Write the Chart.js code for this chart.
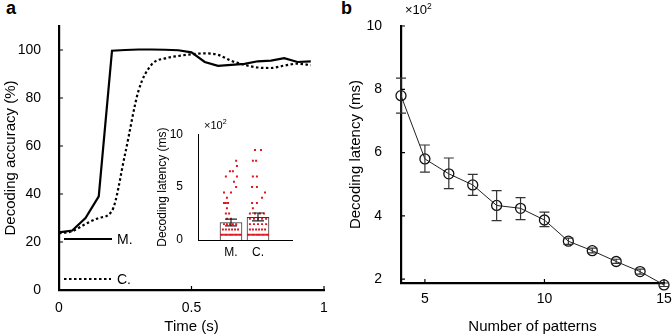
<!DOCTYPE html>
<html>
<head>
<meta charset="utf-8">
<script src="https://cdn.jsdelivr.net/npm/chart.js@4.4.1/dist/chart.umd.min.js"></script>
<style>
body { margin: 0; background: #fff; width: 672px; height: 336px; position: relative; overflow: hidden; font-family: "Liberation Sans", Arial, sans-serif; }
canvas { position: absolute; }
.panel { position: absolute; font-weight: bold; font-size: 18px; color: #000; }
.mult { position: absolute; color: #000; }
.mult sup { font-size: 0.65em; }
</style>
</head>
<body>
<div class="panel" style="left:6px;top:-2px">a</div>
<div class="panel" style="left:341px;top:-2px">b</div>
<canvas id="chartA" width="340" height="336" style="left:0;top:0"></canvas>
<canvas id="inset" width="155" height="140" style="left:145px;top:120px"></canvas>
<canvas id="chartB" width="332" height="336" style="left:340px;top:0"></canvas>
<div class="mult" style="left:204px;top:118px;font-size:11px">×10<sup>2</sup></div>
<div class="mult" style="left:405px;top:1px;font-size:13px">×10<sup>2</sup></div>
<script>
// panel a: decoding accuracy over time
const timeS = [0, 0.05, 0.1, 0.15, 0.2, 0.25, 0.3, 0.35, 0.4, 0.45, 0.5, 0.55, 0.6, 0.65, 0.7, 0.75, 0.8, 0.85, 0.9, 0.95];
const accM = [24, 24.8, 30, 39, 99.7, 100, 100.2, 100.2, 100.1, 99.9, 99, 95, 93.4, 93.8, 94.2, 95.3, 95.6, 96.6, 95, 95.3];
const accC = [23.6, 24.5, 27.5, 30, 33, 57, 83, 94, 96.5, 97.5, 98.2, 98.6, 98, 95.5, 93.8, 92.7, 92.5, 93.5, 94.3, 93.7];
const aTicksX = [0, 0.5, 1];
const aTicksY = [0, 20, 40, 60, 80, 100];

// inset: latency per group (x100 ms)
const insetCats = ['M.', 'C.'];
const insetMeans = [1.65, 2.15];
const insetErrHi = [1.97, 2.55];
const insetErrLo = [1.33, 1.8];
const insetTicksY = [0, 5, 10];
const mDotsY = [7.5, 7.0, 6.5, 6.5, 6.0, 6.0, 5.5, 5.0, 4.5, 4.5, 4.0, 3.5, 3.5, 3.5, 3.0, 2.5, 2.5, 2.0, 2.0,
  1.5, 1.5, 1.5, 1.5, 1.5, 1.0, 1.0, 1.0, 1.0, 1.0, 1.0,
  0.5, 0.5, 0.5, 0.5, 0.5, 0.5, 0.5, 0.5, 0.5, 0.5, 0.5];
const mDotsX = [1.19, 1.22, 0.96, 1.07, 0.81, 1.22, 1.11, 1.19, 0.74, 1.0, 0.85, 0.74, 0.81, 0.89, 0.85, 0.81, 0.93, 0.85, 1.0,
  0.74, 0.85, 0.96, 1.07, 1.19, 0.7, 0.81, 0.93, 1.04, 1.15, 1.26,
  0.63, 0.7, 0.78, 0.85, 0.93, 1.0, 1.07, 1.15, 1.22, 1.3, 1.37];
const cDotsY = [8.5, 8.5, 7.5, 7.5, 6.0, 6.0, 5.0, 5.0, 4.5, 4.0, 3.5, 3.5, 3.0, 2.5, 2.5, 2.5, 2.5,
  2.0, 2.0, 2.0, 2.0, 2.0, 1.5, 1.5, 1.5, 1.5, 1.5, 1.0, 1.0, 1.0, 1.0, 1.0, 1.0,
  0.5, 0.5, 0.5, 0.5, 0.5, 0.5, 0.5, 0.5, 0.5, 0.5, 0.5];
const cDotsX = [1.89, 2.11, 1.81, 1.93, 1.81, 1.96, 1.78, 1.96, 2.26, 2.15, 1.78, 1.96, 1.81, 1.7, 1.89, 2.07, 2.22,
  1.7, 1.85, 2.0, 2.15, 2.3, 1.7, 1.85, 2.0, 2.15, 2.3, 1.7, 1.81, 1.93, 2.04, 2.15, 2.26,
  1.63, 1.7, 1.78, 1.85, 1.93, 2.0, 2.07, 2.15, 2.22, 2.3, 2.37];

// panel b: latency vs number of patterns (x100 ms)
const nPatterns = [4, 5, 6, 7, 8, 9, 10, 11, 12, 13, 14, 15];
const latency = [7.8, 5.8, 5.33, 4.98, 4.33, 4.24, 3.87, 3.2, 2.9, 2.56, 2.24, 1.82];
const latErrHi = [8.35, 6.24, 5.83, 5.31, 4.8, 4.58, 4.12, 3.3, 2.98, 2.63, 2.32, 1.88];
const latErrLo = [7.25, 5.38, 4.86, 4.65, 3.85, 3.88, 3.66, 3.1, 2.83, 2.5, 2.16, 1.77];
const bTicksX = [5, 10, 15];
const bTicksY = [2, 4, 6, 8, 10];

const FONT = '"Liberation Sans", Arial, sans-serif';

const innerTicks = {
    id: 'innerTicks',
    afterDraw(chart, args, opts) {
        if (!opts.len) return;
        const { ctx, chartArea: a, scales: { x, y } } = chart;
        ctx.save();
        ctx.strokeStyle = '#000';
        ctx.lineWidth = 1.2;
        ctx.beginPath();
        x.ticks.forEach(t => {
            const p = x.getPixelForValue(t.value);
            ctx.moveTo(p, a.bottom);
            ctx.lineTo(p, a.bottom - opts.len);
        });
        y.ticks.forEach(t => {
            const p = y.getPixelForValue(t.value);
            ctx.moveTo(a.left, p);
            ctx.lineTo(a.left + opts.len, p);
        });
        ctx.stroke();
        ctx.restore();
    }
};

const errorBars = {
    id: 'errorBars',
    afterDatasetsDraw(chart, args, opts) {
        if (!opts.xs) return;
        const { ctx, scales: { x, y } } = chart;
        ctx.save();
        ctx.strokeStyle = opts.color;
        ctx.lineWidth = opts.width;
        ctx.beginPath();
        opts.xs.forEach((xv, i) => {
            const px = x.getPixelForValue(xv);
            const top = y.getPixelForValue(opts.hi[i]);
            const bot = y.getPixelForValue(opts.lo[i]);
            ctx.moveTo(px, top); ctx.lineTo(px, bot);
            ctx.moveTo(px - opts.cap, top); ctx.lineTo(px + opts.cap, top);
            ctx.moveTo(px - opts.cap, bot); ctx.lineTo(px + opts.cap, bot);
        });
        ctx.stroke();
        ctx.restore();
    }
};

// little line legend inside panel a
const legendA = {
    id: 'legendA',
    afterDraw(chart) {
        const { ctx, chartArea: a } = chart;
        ctx.save();
        ctx.strokeStyle = '#000';
        ctx.lineWidth = 2.2;
        ctx.beginPath();
        ctx.moveTo(a.left + 5, 239); ctx.lineTo(a.left + 53, 239);
        ctx.stroke();
        ctx.setLineDash([2.5, 2.5]);
        ctx.beginPath();
        ctx.moveTo(a.left + 5, 279); ctx.lineTo(a.left + 52, 279);
        ctx.stroke();
        ctx.fillStyle = '#000';
        ctx.font = '14px ' + FONT;
        ctx.textBaseline = 'middle';
        ctx.fillText('M.', a.left + 58, 240);
        ctx.fillText('C.', a.left + 58, 280);
        ctx.restore();
    }
};

function axis(opts) {
    return {
        type: 'linear',
        min: opts.min,
        max: opts.max,
        offset: false,
        afterBuildTicks: s => { s.ticks = opts.ticks.map(v => ({ value: v })); },
        afterFit: s => { if (opts.w) s.width = opts.w; if (opts.h) s.height = opts.h; },
        grid: { display: false, offset: false },
        border: { display: true, color: '#000', width: opts.bw },
        ticks: {
            color: '#000', padding: opts.pad,
            font: { family: FONT, size: opts.fs },
            callback: opts.cb || (v => String(v))
        },
        title: {
            display: !!opts.title, text: opts.title, color: '#000',
            font: { family: FONT, size: opts.tfs },
            padding: { top: opts.tpad, bottom: 0 }
        }
    };
}

new Chart(document.getElementById('chartA'), {
    type: 'line',
    data: {
        datasets: [
            { label: 'M.', data: timeS.map((t, i) => ({ x: t, y: accM[i] })), borderColor: '#000', borderWidth: 2.2, pointRadius: 0, tension: 0 },
            { label: 'C.', data: timeS.map((t, i) => ({ x: t, y: accC[i] })), borderColor: '#000', borderWidth: 2.2, borderDash: [2.5, 2.5], pointRadius: 0, cubicInterpolationMode: 'monotone' }
        ]
    },
    options: {
        responsive: false, animation: false, events: [],
        layout: { padding: { top: 26, right: 16, left: 0, bottom: 0 } },
        plugins: { legend: { display: false }, tooltip: { enabled: false }, innerTicks: { len: 4 } },
        scales: {
            x: axis({ min: 0, max: 1, ticks: aTicksX, h: 46, bw: 2.2, pad: 2, fs: 14, title: 'Time (s)', tfs: 15, tpad: -3 }),
            y: axis({ min: 0, max: 110, ticks: aTicksY, w: 59, bw: 2.2, pad: 10, fs: 14, title: 'Decoding accuracy (%)', tfs: 15, tpad: 2 })
        }
    },
    plugins: [innerTicks, legendA]
});

new Chart(document.getElementById('inset'), {
    type: 'scatter',
    data: {
        datasets: [
            { data: mDotsX.map((x, i) => ({ x: x, y: mDotsY[i] })).concat(cDotsX.map((x, i) => ({ x: x, y: cDotsY[i] }))),
              pointStyle: 'rect', pointRadius: 1.4, backgroundColor: '#e0141e', borderWidth: 0, order: 1 },
            { type: 'bar', data: insetMeans.map((m, i) => ({ x: i + 1, y: m })), backgroundColor: '#fff', borderColor: '#333', borderWidth: 1, barThickness: 22, order: 2 }
        ]
    },
    options: {
        responsive: false, animation: false, events: [],
        layout: { padding: { top: 14, right: 8, left: 0, bottom: 0 } },
        plugins: {
            legend: { display: false }, tooltip: { enabled: false },
            errorBars: { xs: [1, 2], hi: insetErrHi, lo: insetErrLo, cap: 6, color: '#222', width: 1.2 }
        },
        scales: {
            x: axis({ min: -0.222, max: 3.259, ticks: [1, 2], h: 20, bw: 1, pad: -3, fs: 12, cb: v => insetCats[v - 1] }),
            y: axis({ min: 0, max: 10, ticks: insetTicksY, w: 53, bw: 1, pad: 7, fs: 12, title: 'Decoding latency (ms)', tfs: 12, tpad: 10 })
        }
    },
    plugins: [errorBars]
});

new Chart(document.getElementById('chartB'), {
    type: 'line',
    data: {
        datasets: [
            { data: nPatterns.map((n, i) => ({ x: n, y: latency[i] })), borderColor: '#222', borderWidth: 1, tension: 0,
              pointRadius: 5, pointBorderWidth: 1.3, pointBorderColor: '#111', pointBackgroundColor: 'rgba(0,0,0,0)', clip: false }
        ]
    },
    options: {
        responsive: false, animation: false, events: [],
        layout: { padding: { top: 26, right: 8, left: 0, bottom: 0 } },
        plugins: {
            legend: { display: false }, tooltip: { enabled: false }, innerTicks: { len: 4 },
            errorBars: { xs: nPatterns, hi: latErrHi, lo: latErrLo, cap: 5, color: '#333', width: 1.2 }
        },
        scales: {
            x: axis({ min: 4, max: 15, ticks: bTicksX, h: 53, bw: 2.2, pad: 0, fs: 14, title: 'Number of patterns', tfs: 15, tpad: -3 }),
            y: axis({ min: 1.88, max: 10, ticks: bTicksY, w: 61, bw: 2.2, pad: 11, fs: 14, title: 'Decoding latency (ms)', tfs: 15, tpad: 7 })
        }
    },
    plugins: [innerTicks, errorBars]
});
</script>
</body>
</html>
